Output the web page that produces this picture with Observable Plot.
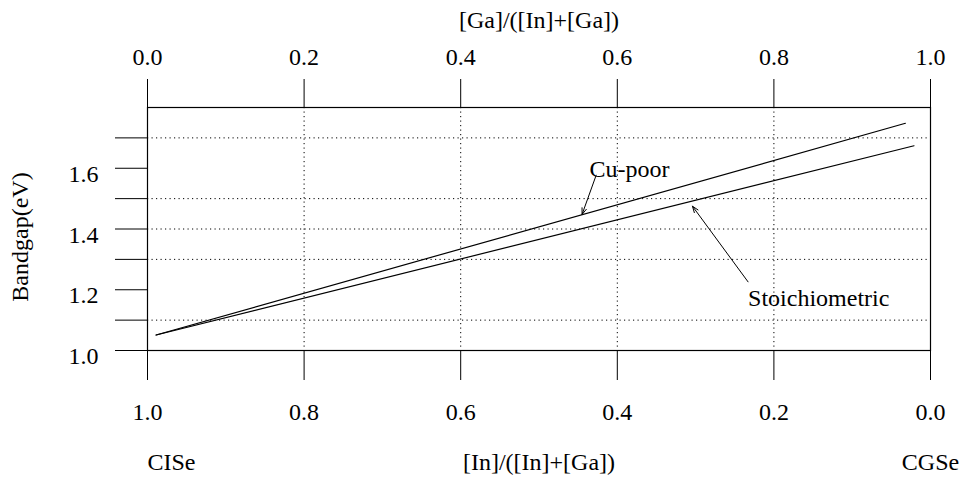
<!DOCTYPE html>
<html>
<head>
<meta charset="utf-8">
<script src="https://cdn.jsdelivr.net/npm/d3@7"></script>
<script src="https://cdn.jsdelivr.net/npm/@observablehq/plot@0.6"></script>
<style>
  html, body { margin: 0; padding: 0; background: #fff; }
  #chart svg { display: block; }
</style>
</head>
<body>
<div id="chart"></div>
<script>
// ---- data ----
const cuPoorGa = [0.011, 0.968];
const cuPoorEg = [1.051, 1.748];
const stoichGa = [0.011, 0.979];
const stoichEg = [1.051, 1.674];

const xTicks = [0, 0.2, 0.4, 0.6, 0.8, 1.0];
const yTicks = [1.0, 1.1, 1.2, 1.3, 1.4, 1.5, 1.6, 1.7];
const yLabelTicks = [1.0, 1.2, 1.4, 1.6];
const xGrid = [0.2, 0.4, 0.6, 0.8];
const yGrid = [1.1, 1.3, 1.4, 1.5, 1.7];

const topTitle = "[Ga]/([In]+[Ga])";
const bottomTitle = "[In]/([In]+[Ga])";
const yTitle = "Bandgap(eV)";
const leftEndLabel = "CISe";
const rightEndLabel = "CGSe";

const notes = ["Cu-poor", "Stoichiometric"];
const noteX = [0.5645, 0.767];
const noteY = [1.597, 1.173];
const arrowX1 = [0.573, 0.767];
const arrowY1 = [1.577, 1.226];
const arrowX2 = [0.555, 0.696];
const arrowY2 = [1.448, 1.475];

// ---- tables ----
const lines = [
  ...cuPoorGa.map((x, i) => ({series: "Cu-poor", x, y: cuPoorEg[i]})),
  ...stoichGa.map((x, i) => ({series: "Stoichiometric", x, y: stoichEg[i]}))
];
const noteData = notes.map((t, i) => ({t, x: noteX[i], y: noteY[i], x1: arrowX1[i], y1: arrowY1[i], x2: arrowX2[i], y2: arrowY2[i]}));

const FONT = "Liberation Serif, Times New Roman, serif";
const FS = 24;
const dots = "1.2,3.3";

const chart = Plot.plot({
  width: 965,
  height: 487,
  marginLeft: 147,
  marginRight: 35,
  marginTop: 107,
  marginBottom: 137,
  style: {fontFamily: FONT, fontSize: FS + "px", color: "#000", background: "#fff"},
  x: {domain: [0, 1]},
  y: {domain: [1.0, 1.8]},
  marks: [
    Plot.ruleX(xGrid, {stroke: "#000", strokeWidth: 1, strokeDasharray: dots}),
    Plot.ruleY(yGrid, {stroke: "#000", strokeWidth: 1, strokeDasharray: dots}),
    Plot.frame({stroke: "#000", strokeWidth: 1.2}),
    Plot.axisX({anchor: "top", ticks: xTicks, tickSize: 29, tickPadding: 14, tickFormat: d => d.toFixed(1), label: null, fontSize: FS}),
    Plot.axisX({anchor: "bottom", ticks: xTicks, tickSize: 30, tickPadding: 22, tickFormat: d => (1 - d).toFixed(1), label: null, fontSize: FS}),
    Plot.axisY({anchor: "left", ticks: yTicks, tickSize: 32, tickFormat: () => "", label: null}),
    Plot.axisY({anchor: "left", ticks: yLabelTicks, tickSize: 0, tickPadding: 49, tickFormat: d => d.toFixed(1), label: null, fontSize: FS, dy: 6}),
    Plot.line(lines, {x: "x", y: "y", z: "series", stroke: "#000", strokeWidth: 1.2}),
    Plot.arrow(noteData, {x1: "x1", y1: "y1", x2: "x2", y2: "y2", stroke: "#000", strokeWidth: 1, headLength: 10, headAngle: 40}),
    Plot.text(noteData, {x: "x", y: "y", text: "t", textAnchor: "start", fontSize: FS, fill: "#000"}),
    Plot.text([topTitle], {frameAnchor: "top", text: d => d, dy: -97, fontSize: FS, fill: "#000"}),
    Plot.text([bottomTitle], {frameAnchor: "bottom", text: d => d, dy: 119, fontSize: FS, fill: "#000"}),
    Plot.text([leftEndLabel], {x: 0, frameAnchor: "bottom", text: d => d, dy: 119, fontSize: FS, fill: "#000", textAnchor: "start"}),
    Plot.text([rightEndLabel], {x: 1, frameAnchor: "bottom", text: d => d, dy: 119, fontSize: FS, fill: "#000", textAnchor: "middle"}),
    Plot.text([yTitle], {frameAnchor: "left", text: d => d, rotate: -90, dx: -127, dy: 8, textAnchor: "middle", fontSize: FS, fill: "#000"})
  ]
});
document.getElementById("chart").append(chart);
</script>
</body>
</html>
